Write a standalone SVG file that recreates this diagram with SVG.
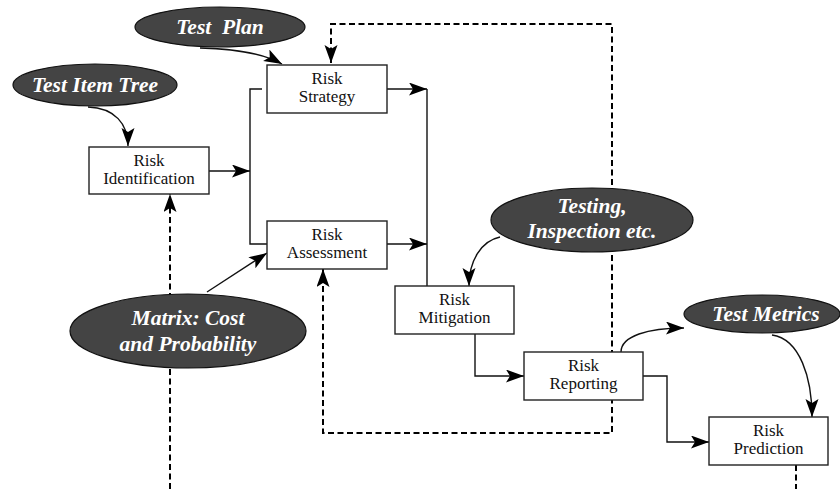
<svg xmlns="http://www.w3.org/2000/svg" width="840" height="489" viewBox="0 0 840 489">
<style>
.box{fill:#fff;stroke:#222;stroke-width:1.4}
.ell{fill:#444;stroke:#111;stroke-width:1.2}
.bt{font-family:'Liberation Serif','Times New Roman',Tinos,Times,serif;font-size:17px;fill:#111;text-anchor:middle}
.et{font-family:'Liberation Serif','Times New Roman',Tinos,Times,serif;font-size:21.5px;font-weight:bold;font-style:italic;fill:#fff;text-anchor:middle}
.c{fill:none;stroke:#111;stroke-width:1.4}
.d{fill:none;stroke:#000;stroke-width:2;stroke-dasharray:6 3.5}
</style>
<defs>
<marker id="a" markerUnits="userSpaceOnUse" markerWidth="20" markerHeight="14" refX="18" refY="6.5" orient="auto-start-reverse">
<path d="M0,0 L18,6.5 L0,13 L4,6.5 z" fill="#000"/>
</marker>
</defs>
<g id="connectors">
<path class="d" d="M331,63 L331,24 L612,24 L612,433 L323,433 L323,269" marker-start="url(#a)" marker-end="url(#a)"/>
<path class="d" d="M170,489 L170,194" marker-end="url(#a)"/>
<path class="d" d="M796,465 L796,489"/>
<path class="c" d="M88,107 C115,108 128,124 128,146" marker-end="url(#a)"/>
<path class="c" d="M200,48 C240,49 264,54 282,64" marker-end="url(#a)"/>
<path class="c" d="M209,171 L250,171" marker-end="url(#a)"/>
<path class="c" d="M262,89 L250,89 L250,244 L267,244"/>
<path class="c" d="M387,89 L427,89" marker-end="url(#a)"/>
<path class="c" d="M387,244 L427,244" marker-end="url(#a)"/>
<path class="c" d="M427,89 L427,286"/>
<path class="c" d="M207,292 L267,253" marker-end="url(#a)"/>
<path class="c" d="M500,237 C481,241 469,261 469,286" marker-end="url(#a)"/>
<path class="c" d="M475,334 L475,376 L524,376" marker-end="url(#a)"/>
<path class="c" d="M643,376 L667,376 L667,442 L709,442" marker-end="url(#a)"/>
<path class="c" d="M621,352 C621,336 648,328 684,328" marker-end="url(#a)"/>
<path class="c" d="M772,335 C800,339 812,378 812,417" marker-end="url(#a)"/>
</g>
<g id="test-plan"><ellipse class="ell" cx="220" cy="27" rx="85" ry="20"/><text class="et" x="220" y="34" xml:space="preserve">Test  Plan</text></g>
<g id="test-item-tree"><ellipse class="ell" cx="95" cy="85" rx="82" ry="21"/><text class="et" x="95" y="92">Test Item Tree</text></g>
<g id="testing"><ellipse class="ell" cx="592" cy="220" rx="101" ry="32"/><text class="et" x="592" y="213">Testing,</text><text class="et" x="592" y="238">Inspection etc.</text></g>
<g id="matrix"><ellipse class="ell" cx="188" cy="331" rx="118" ry="37"/><text class="et" x="188" y="325">Matrix: Cost</text><text class="et" x="188" y="351">and Probability</text></g>
<g id="test-metrics"><ellipse class="ell" cx="762" cy="314" rx="78" ry="19"/><text class="et" x="766" y="321">Test Metrics</text></g>
<g id="risk-strategy"><rect class="box" x="267" y="65" width="120" height="48"/><text class="bt" x="327" y="84">Risk</text><text class="bt" x="327" y="102">Strategy</text></g>
<g id="risk-identification"><rect class="box" x="89" y="147" width="120" height="47"/><text class="bt" x="149" y="165.5">Risk</text><text class="bt" x="149" y="183.5">Identification</text></g>
<g id="risk-assessment"><rect class="box" x="267" y="221" width="120" height="48"/><text class="bt" x="327" y="240">Risk</text><text class="bt" x="327" y="258">Assessment</text></g>
<g id="risk-mitigation"><rect class="box" x="395" y="286" width="119" height="48"/><text class="bt" x="454.5" y="305">Risk</text><text class="bt" x="454.5" y="323">Mitigation</text></g>
<g id="risk-reporting"><rect class="box" x="524" y="352" width="119" height="48"/><text class="bt" x="583.5" y="371">Risk</text><text class="bt" x="583.5" y="389">Reporting</text></g>
<g id="risk-prediction"><rect class="box" x="709" y="417" width="119" height="48"/><text class="bt" x="768.5" y="436">Risk</text><text class="bt" x="768.5" y="454">Prediction</text></g>
</svg>
